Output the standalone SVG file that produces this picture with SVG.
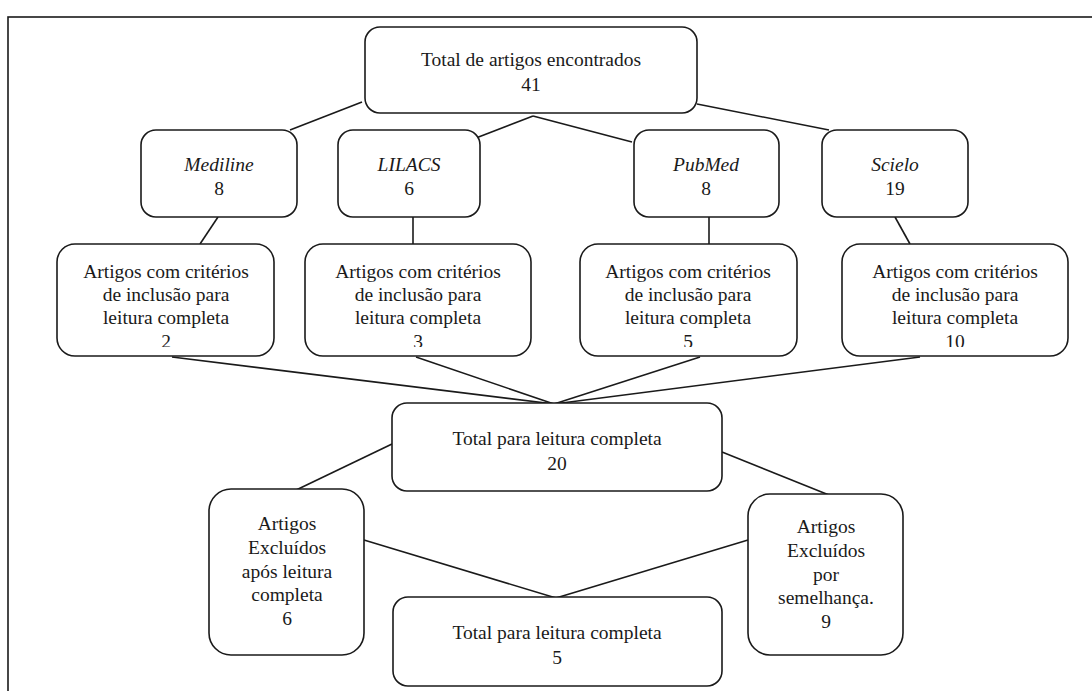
<svg xmlns="http://www.w3.org/2000/svg" width="1092" height="691" viewBox="0 0 1092 691">
<style>
.box{fill:#fff;stroke:#1a1a1a;stroke-width:1.6}
.t{font-family:'Liberation Serif','Times New Roman','DejaVu Serif',serif;font-size:19.5px;fill:#1a1a1a;text-anchor:middle}
.i{font-style:italic}
.c line{stroke:#1a1a1a;stroke-width:1.6}
</style>
<defs>
<clipPath id="r3"><rect x="0" y="0" width="1092" height="347"/></clipPath>
</defs>
<rect x="0" y="0" width="1092" height="691" fill="#fff"/>
<rect x="8" y="17" width="1100" height="700" fill="none" stroke="#1a1a1a" stroke-width="1.6"/>
<g id="connectors" class="c">
<line x1="362" y1="102" x2="290" y2="130"/>
<line x1="533" y1="116" x2="476" y2="138"/>
<line x1="533" y1="116" x2="632" y2="142"/>
<line x1="697" y1="104" x2="829" y2="130"/>
<line x1="218" y1="217" x2="200" y2="244"/>
<line x1="413" y1="217" x2="413" y2="244"/>
<line x1="709" y1="217" x2="709" y2="244"/>
<line x1="895" y1="217" x2="910" y2="244"/>
<line x1="172" y1="357" x2="554" y2="404"/>
<line x1="416" y1="357" x2="554" y2="404"/>
<line x1="700" y1="357" x2="554" y2="404"/>
<line x1="920" y1="357" x2="554" y2="404"/>
<line x1="392" y1="444" x2="292" y2="492"/>
<line x1="722" y1="452" x2="829" y2="495"/>
<line x1="364" y1="540" x2="556" y2="598"/>
<line x1="748" y1="540" x2="556" y2="598"/>
</g>
<g id="n-total">
<rect class="box" x="365" y="27" width="332" height="86" rx="15"/>
<text class="t" x="531" y="66">Total de artigos encontrados</text>
<text class="t" x="531" y="91">41</text>
</g>
<g id="n-mediline">
<rect class="box" x="141" y="130" width="156" height="87" rx="15"/>
<text class="t i" x="219" y="171">Mediline</text>
<text class="t" x="219" y="195">8</text>
</g>
<g id="n-lilacs">
<rect class="box" x="338" y="130" width="142" height="87" rx="15"/>
<text class="t i" x="409" y="171">LILACS</text>
<text class="t" x="409" y="195">6</text>
</g>
<g id="n-pubmed">
<rect class="box" x="634" y="130" width="145" height="87" rx="15"/>
<text class="t i" x="706" y="171">PubMed</text>
<text class="t" x="706" y="195">8</text>
</g>
<g id="n-scielo">
<rect class="box" x="822" y="130" width="146" height="87" rx="15"/>
<text class="t i" x="895" y="171">Scielo</text>
<text class="t" x="895" y="195">19</text>
</g>
<g id="n-inc1">
<rect class="box" x="57" y="244" width="217" height="112" rx="18"/>
<text class="t" x="166" y="278">Artigos com critérios</text>
<text class="t" x="166" y="301">de inclusão para</text>
<text class="t" x="166" y="324">leitura completa</text>
<text class="t" x="166" y="348" clip-path="url(#r3)">2</text>
</g>
<g id="n-inc2">
<rect class="box" x="305" y="244" width="226" height="112" rx="18"/>
<text class="t" x="418" y="278">Artigos com critérios</text>
<text class="t" x="418" y="301">de inclusão para</text>
<text class="t" x="418" y="324">leitura completa</text>
<text class="t" x="418" y="348" clip-path="url(#r3)">3</text>
</g>
<g id="n-inc3">
<rect class="box" x="580" y="244" width="217" height="112" rx="18"/>
<text class="t" x="688" y="278">Artigos com critérios</text>
<text class="t" x="688" y="301">de inclusão para</text>
<text class="t" x="688" y="324">leitura completa</text>
<text class="t" x="688" y="348" clip-path="url(#r3)">5</text>
</g>
<g id="n-inc4">
<rect class="box" x="842" y="244" width="226" height="112" rx="18"/>
<text class="t" x="955" y="278">Artigos com critérios</text>
<text class="t" x="955" y="301">de inclusão para</text>
<text class="t" x="955" y="324">leitura completa</text>
<text class="t" x="955" y="348" clip-path="url(#r3)">10</text>
</g>
<g id="n-total20">
<rect class="box" x="392" y="403" width="330" height="88" rx="15"/>
<text class="t" x="557" y="445">Total para leitura completa</text>
<text class="t" x="557" y="470">20</text>
</g>
<g id="n-excl1">
<rect class="box" x="209" y="489" width="155" height="166" rx="22"/>
<text class="t" x="287" y="530">Artigos</text>
<text class="t" x="287" y="554">Excluídos</text>
<text class="t" x="287" y="578">após leitura</text>
<text class="t" x="287" y="601">completa</text>
<text class="t" x="287" y="625">6</text>
</g>
<g id="n-excl2">
<rect class="box" x="748" y="494" width="155" height="161" rx="22"/>
<text class="t" x="826" y="533">Artigos</text>
<text class="t" x="826" y="557">Excluídos</text>
<text class="t" x="826" y="581">por</text>
<text class="t" x="826" y="604">semelhança.</text>
<text class="t" x="826" y="628">9</text>
</g>
<g id="n-total5">
<rect class="box" x="393" y="597" width="329" height="89" rx="15"/>
<text class="t" x="557" y="639">Total para leitura completa</text>
<text class="t" x="557" y="664">5</text>
</g>
</svg>
